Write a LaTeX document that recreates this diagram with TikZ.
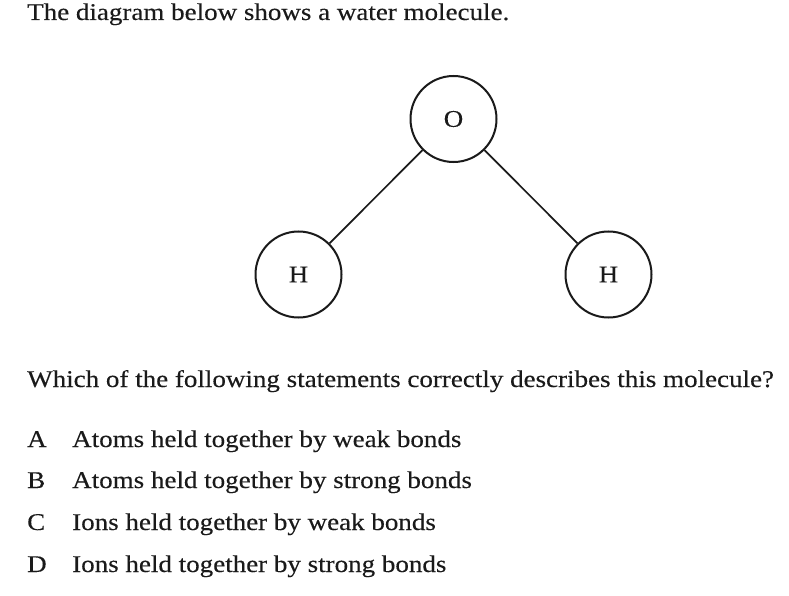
\documentclass[tikz,border=0pt]{standalone}
\usepackage{fontspec}
\setmainfont[FakeStretch=1.125,FakeBold=0.25]{Liberation Serif}
\definecolor{ink}{HTML}{1A1A1A}
\begin{document}
\begin{tikzpicture}[x=1pt,y=-1pt,
  txt/.style={anchor=base west,inner sep=0pt,text=ink,font=\fontsize{24}{28}\selectfont},
  atom/.style={circle,draw=ink,line width=2pt,minimum size=86pt,inner sep=0pt,text=ink,font=\fontsize{24}{28}\selectfont},
  bond/.style={draw=ink,line width=1.7pt}]
\useasboundingbox[fill=white] (0,0) rectangle (789,596);
\node[txt] (title) at (27,20) {The diagram below shows a water molecule.};
\node[atom] (O) at (453.5,119) {O};
\node[atom] (H1) at (298.5,274.5) {H};
\node[atom] (H2) at (608.5,274.5) {H};
\draw[bond] (O) -- (H1);
\draw[bond] (O) -- (H2);
\node[txt] (q) at (27,387) {Which of the following statements correctly describes this molecule?};
\node[txt] (la) at (27,447) {A};
\node[txt] (ta) at (72,447) {Atoms held together by weak bonds};
\node[txt] (lb) at (27,488) {B};
\node[txt] (tb) at (72,488) {Atoms held together by strong bonds};
\node[txt] (lc) at (27,530) {C};
\node[txt] (tc) at (72,530) {Ions held together by weak bonds};
\node[txt] (ld) at (27,572) {D};
\node[txt] (td) at (72,572) {Ions held together by strong bonds};
\end{tikzpicture}
\end{document}
